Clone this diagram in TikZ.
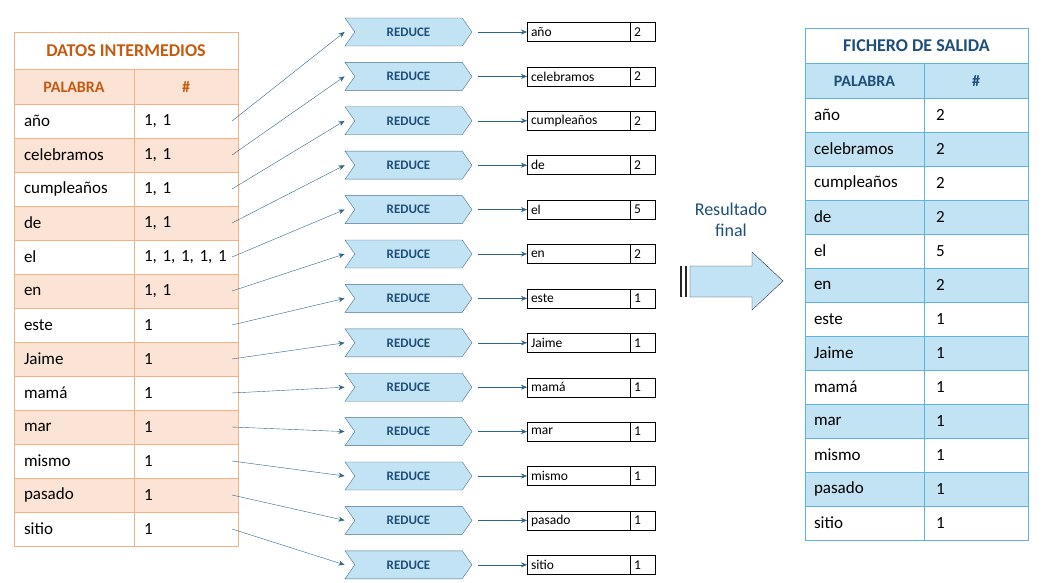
\documentclass[tikz,border=0pt]{standalone}
\usepackage{fontspec}
\setmainfont{Carlito}
\usetikzlibrary{shapes.symbols,arrows.meta,positioning}
\definecolor{orgline}{HTML}{F4B183}
\definecolor{orgfill}{HTML}{FBE3D6}
\definecolor{orgtext}{HTML}{C55A11}
\definecolor{bluline}{HTML}{5BB5E0}
\definecolor{blufill}{HTML}{C2E3F3}
\definecolor{blutext}{HTML}{1F4E79}
\definecolor{redline}{HTML}{4A7090}
\definecolor{arrline}{HTML}{2E6488}

\tikzset{
  cell/.style 2 args={draw=#1,rectangle,minimum height=34,inner ysep=0,inner xsep=#2,outer sep=0,font=\fontsize{17}{17}\selectfont,align=left,anchor=west},
  hcell/.style={draw=#1,rectangle,minimum height=35,inner sep=0,outer sep=0,font=\bfseries\fontsize{16}{16}\selectfont},
  reduce/.style={signal,signal to=east,signal from=west,signal pointer angle=110,draw=redline,fill=blufill,minimum width=127,minimum height=28,inner sep=0,font=\bfseries\fontsize{13}{13}\selectfont,text=blutext},
  obox/.style={draw,rectangle,minimum height=19,inner ysep=0,outer sep=0,font=\fontsize{13.5}{13.5}\selectfont,anchor=west},
  feed/.style={-{Stealth[length=6pt,width=5pt]},arrline,thin},
}

\begin{document}
\begin{tikzpicture}[x=1pt,y=-1pt]
  \useasboundingbox (0,0) rectangle (1045,583);

  % Datos intermedios
  \node[hcell=orgline,minimum width=224,font=\bfseries\fontsize{18}{18}\selectfont,text=orgtext,minimum height=37] (ltitle) at (126,50.5) {DATOS INTERMEDIOS};
  \node[hcell=orgline,minimum width=120,fill=orgfill,text=orgtext] (lhw) at (74,87) {PALABRA};
  \node[hcell=orgline,minimum width=104,fill=orgfill,text=orgtext] (lhc) at (186,87) {\#};
  \foreach \w/\c [count=\i] in {año/{1, 1},celebramos/{1, 1},cumpleaños/{1, 1},de/{1, 1},el/{1, 1, 1, 1, 1},en/{1, 1},este/1,Jaime/1,mamá/1,mar/1,mismo/1,pasado/1,sitio/1}{
    \pgfmathsetmacro\y{121+34*(\i-1)}
    \pgfmathtruncatemacro\odd{mod(\i,2)}
    \ifnum\odd=0 \def\bg{orgfill}\else\def\bg{white}\fi
    \node[cell={orgline}{10},minimum width=120,text width=100,fill=\bg] (lw\i) at (14,\y) {\w};
    \node[cell={orgline}{10},minimum width=104,text width=84,fill=\bg] (lc\i) at (134,\y) {\c};
  }

  % Reduce
  \foreach \w/\n [count=\i] in {año/2,celebramos/2,cumpleaños/2,de/2,el/5,en/2,este/1,Jaime/1,mamá/1,mar/1,mismo/1,pasado/1,sitio/1}{
    \pgfmathsetmacro\y{32+44.4*(\i-1)}
    \node[reduce] (r\i) at (408.5,\y) {REDUCE};
    \node[obox,minimum width=103,text width=95,inner xsep=4,align=left] (o\i) at (527,\y) {\w};
    \node[obox,minimum width=25,text width=17,inner xsep=4,align=left] (n\i) at (o\i.east) {\n};
    \draw[feed] ([xshift=6]r\i.east) -- (o\i.west);
    \draw[feed] ([xshift=-6]lc\i.east) -- ([xshift=-10]r\i.west);
  }

  % Resultado final
  \draw[black!80,fill=blufill] (690,266) -- (752,266) -- (752,252) -- (783,281) -- (752,310) -- (752,297) -- (690,297) -- cycle;
  \node[text=blutext,font=\fontsize{18}{21}\selectfont,align=center] (res) at (731,220) {Resultado\\final};
  \draw[line width=2,black!85] (681,266) -- (681,297);
  \draw[line width=1.5,black!85] (686,266) -- (686,297);

  % Fichero de salida
  \node[hcell=bluline,minimum width=223,font=\bfseries\fontsize{18}{18}\selectfont,text=blutext,minimum height=36] (rtitle) at (916.5,46) {FICHERO DE SALIDA};
  \node[hcell=bluline,minimum width=119,fill=blufill,text=blutext] (rhw) at (864.5,81) {PALABRA};
  \node[hcell=bluline,minimum width=104,fill=blufill,text=blutext] (rhc) at (976,81) {\#};
  \foreach \w/\n [count=\i] in {año/2,celebramos/2,cumpleaños/2,de/2,el/5,en/2,este/1,Jaime/1,mamá/1,mar/1,mismo/1,pasado/1,sitio/1}{
    \pgfmathsetmacro\y{115+34*(\i-1)}
    \pgfmathtruncatemacro\odd{mod(\i,2)}
    \ifnum\odd=0 \def\bg{blufill}\else\def\bg{white}\fi
    \node[cell={bluline}{9},minimum width=119,text width=101,fill=\bg] (fw\i) at (805,\y) {\w};
    \node[cell={bluline}{12},minimum width=104,text width=80,fill=\bg] (fc\i) at (924,\y) {\n};
  }
\end{tikzpicture}
\end{document}
